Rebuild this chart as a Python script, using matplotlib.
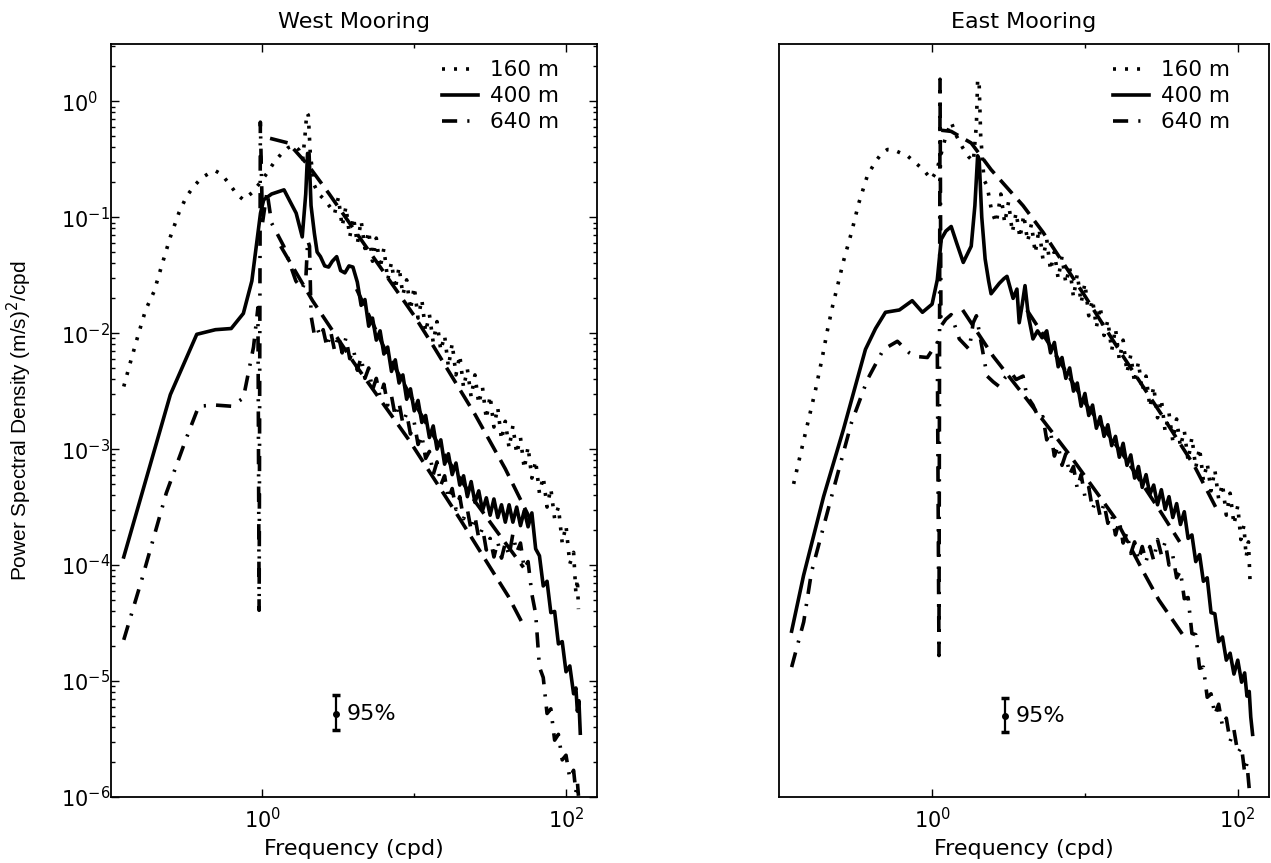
import numpy as np
import matplotlib
matplotlib.use("Agg")
import matplotlib.pyplot as plt
from matplotlib.ticker import FixedLocator, NullLocator, LogFormatterMathtext, NullFormatter, LogLocator

plt.rcParams['font.family'] = ['DejaVu Sans']
plt.rcParams['mathtext.fontset'] = 'dejavusans'

# ---------------- data: (log10 frequency [cpd], log10 PSD [(m/s)^2/cpd]) ----------------
west_160m = [(-0.914, -2.46), (-0.87, -2.25), (-0.82, -2.02), (-0.77, -1.80), (-0.714, -1.64),
    (-0.66, -1.40), (-0.607, -1.17), (-0.55, -0.96), (-0.50, -0.82), (-0.45, -0.73), (-0.40, -0.66),
    (-0.35, -0.62), (-0.31, -0.60), (-0.27, -0.63), (-0.22, -0.71), (-0.17, -0.80), (-0.126, -0.85),
    (-0.07, -0.79), (-0.02, -0.71), (0.03, -0.62), (0.08, -0.52), (0.12, -0.46), (0.17, -0.40),
    (0.21, -0.38), (0.24, -0.42), (0.265, -0.50), (0.28, -0.30), (0.292, -0.10), (0.302, -0.12),
    (0.315, -0.45), (0.34, -0.72), (0.37, -0.80), (0.41, -0.85), (0.45, -0.92), (0.475, -0.97),
    (0.500, -0.83), (0.525, -1.08), (0.550, -0.91), (0.575, -1.17), (0.600, -1.00), (0.625, -1.23),
    (0.650, -1.03), (0.675, -1.27), (0.700, -1.12), (0.725, -1.38), (0.750, -1.18), (0.775, -1.44),
    (0.800, -1.27), (0.825, -1.54), (0.850, -1.39), (0.875, -1.62), (0.900, -1.43), (0.925, -1.67),
    (0.950, -1.54), (0.975, -1.80), (1.000, -1.60), (1.025, -1.87), (1.050, -1.71), (1.075, -1.99),
    (1.100, -1.84), (1.125, -2.08), (1.150, -1.90), (1.175, -2.15), (1.200, -2.02), (1.225, -2.29),
    (1.250, -2.09), (1.275, -2.36), (1.300, -2.19), (1.325, -2.47), (1.350, -2.31), (1.375, -2.55),
    (1.400, -2.36), (1.425, -2.61), (1.450, -2.47), (1.475, -2.74), (1.500, -2.54), (1.525, -2.81),
    (1.550, -2.64), (1.575, -2.92), (1.600, -2.76), (1.625, -2.99), (1.650, -2.80), (1.675, -3.04),
    (1.700, -2.90), (1.725, -3.17), (1.750, -2.98), (1.775, -3.25), (1.800, -3.10), (1.825, -3.38),
    (1.850, -3.24), (1.875, -3.50), (1.900, -3.34), (1.925, -3.60), (1.950, -3.50), (1.975, -3.81),
    (2.000, -3.66), (2.025, -3.99), (2.050, -3.89), (2.065, -4.24), (2.075, -4.12), (2.082, -4.38)]

west_400m = [(-0.914, -3.93), (-0.607, -2.53), (-0.433, -2.01), (-0.31, -1.97), (-0.206, -1.96),
    (-0.126, -1.83), (-0.07, -1.55), (-0.013, -0.965), (0.008, -0.85), (0.06, -0.80), (0.142, -0.764),
    (0.18, -0.86), (0.222, -0.965), (0.262, -1.17), (0.285, -0.80), (0.297, -0.45), (0.307, -0.45),
    (0.32, -0.90), (0.342, -1.14), (0.36, -1.30), (0.382, -1.34), (0.41, -1.42), (0.436, -1.43),
    (0.46, -1.38), (0.489, -1.34), (0.515, -1.46), (0.543, -1.48), (0.57, -1.42), (0.596, -1.43),
    (0.625, -1.56), (0.650, -1.76), (0.675, -1.71), (0.700, -1.94), (0.725, -1.87), (0.750, -2.06),
    (0.775, -1.98), (0.800, -2.18), (0.825, -2.12), (0.850, -2.33), (0.875, -2.23), (0.900, -2.43),
    (0.925, -2.36), (0.950, -2.57), (0.975, -2.48), (1.000, -2.67), (1.025, -2.58), (1.050, -2.77),
    (1.075, -2.71), (1.100, -2.90), (1.125, -2.80), (1.150, -3.00), (1.175, -2.92), (1.200, -3.13),
    (1.225, -3.04), (1.250, -3.22), (1.275, -3.12), (1.300, -3.31), (1.325, -3.23), (1.350, -3.41),
    (1.375, -3.28), (1.400, -3.46), (1.425, -3.36), (1.450, -3.53), (1.475, -3.42), (1.500, -3.57),
    (1.525, -3.43), (1.550, -3.59), (1.575, -3.48), (1.600, -3.63), (1.625, -3.48), (1.650, -3.63),
    (1.675, -3.50), (1.700, -3.66), (1.725, -3.53), (1.750, -3.67), (1.775, -3.55), (1.800, -3.86),
    (1.825, -3.92), (1.850, -4.18), (1.875, -4.14), (1.900, -4.41), (1.925, -4.40), (1.950, -4.68),
    (1.975, -4.66), (2.000, -4.92), (2.025, -4.87), (2.050, -5.11), (2.065, -5.06), (2.075, -5.26),
    (2.085, -5.17), (2.094, -5.45)]

west_640m = [(-0.914, -4.645), (-0.794, -4.12), (-0.634, -3.38), (-0.50, -2.90), (-0.42, -2.63),
    (-0.313, -2.62), (-0.206, -2.63), (-0.126, -2.56), (-0.059, -2.12), (-0.03, -1.78),
    (-0.022, -4.39), (-0.014, -0.18), (0.0, -1.05), (0.03, -0.78), (0.06, -1.05), (0.10, -1.15),
    (0.14, -1.25), (0.18, -1.40), (0.22, -1.55), (0.26, -1.62), (0.285, -1.55), (0.298, -1.20),
    (0.31, -1.25), (0.32, -1.85), (0.34, -2.00), (0.36, -1.95), (0.38, -2.03),
    (0.400, -1.97), (0.425, -2.12), (0.450, -1.99), (0.475, -2.15), (0.500, -2.02), (0.525, -2.17),
    (0.550, -2.04), (0.575, -2.22), (0.600, -2.14), (0.625, -2.32), (0.650, -2.21), (0.675, -2.39),
    (0.700, -2.30), (0.725, -2.49), (0.750, -2.39), (0.775, -2.55), (0.800, -2.44), (0.825, -2.62),
    (0.850, -2.54), (0.875, -2.72), (0.900, -2.60), (0.925, -2.78), (0.950, -2.69), (0.975, -2.87),
    (1.000, -2.77), (1.025, -2.96), (1.050, -2.88), (1.075, -3.08), (1.100, -3.02), (1.125, -3.22),
    (1.150, -3.11), (1.175, -3.31), (1.200, -3.23), (1.225, -3.43), (1.250, -3.34), (1.275, -3.52),
    (1.300, -3.41), (1.325, -3.60), (1.350, -3.52), (1.375, -3.70), (1.400, -3.58), (1.425, -3.77),
    (1.450, -3.68), (1.475, -3.87), (1.500, -3.77), (1.525, -3.93), (1.550, -3.80), (1.575, -3.94),
    (1.600, -3.81), (1.625, -3.92), (1.650, -3.73), (1.675, -3.89), (1.700, -3.81), (1.725, -4.03),
    (1.750, -3.97), (1.775, -4.25), (1.800, -4.42), (1.825, -4.88), (1.850, -4.97), (1.875, -5.28),
    (1.900, -5.24), (1.925, -5.51), (1.950, -5.46), (1.975, -5.68), (2.000, -5.64), (2.025, -5.84),
    (2.050, -5.77), (2.065, -5.96), (2.075, -5.87), (2.082, -5.99)]

east_160m = [(-0.906, -3.30), (-0.85, -2.98), (-0.80, -2.70), (-0.762, -2.485), (-0.72, -2.22),
    (-0.684, -1.97), (-0.65, -1.76), (-0.62, -1.60), (-0.58, -1.38), (-0.527, -1.13), (-0.48, -0.88),
    (-0.423, -0.64), (-0.37, -0.52), (-0.33, -0.45), (-0.292, -0.416), (-0.25, -0.42), (-0.20, -0.45),
    (-0.162, -0.47), (-0.11, -0.53), (-0.057, -0.59), (-0.005, -0.675), (0.03, -0.60), (0.06, -0.45),
    (0.09, -0.30), (0.125, -0.18), (0.16, -0.30), (0.20, -0.40), (0.24, -0.48), (0.27, -0.52),
    (0.29, -0.20), (0.298, 0.19), (0.308, 0.15), (0.318, -0.30), (0.34, -0.68), (0.36, -0.73),
    (0.39, -0.95), (0.42, -1.05),
    (0.450, -0.80), (0.475, -1.05), (0.500, -0.87), (0.525, -1.13), (0.550, -0.96), (0.575, -1.18),
    (0.600, -0.98), (0.625, -1.21), (0.650, -1.06), (0.675, -1.31), (0.700, -1.10), (0.725, -1.36),
    (0.750, -1.19), (0.775, -1.46), (0.800, -1.30), (0.825, -1.53), (0.850, -1.34), (0.875, -1.57),
    (0.900, -1.43), (0.925, -1.69), (0.950, -1.49), (0.975, -1.74), (1.000, -1.57), (1.025, -1.85),
    (1.050, -1.71), (1.075, -1.95), (1.100, -1.77), (1.125, -2.02), (1.150, -1.89), (1.175, -2.15),
    (1.200, -1.96), (1.225, -2.23), (1.250, -2.06), (1.275, -2.34), (1.300, -2.19), (1.325, -2.43),
    (1.350, -2.25), (1.375, -2.50), (1.400, -2.37), (1.425, -2.64), (1.450, -2.46), (1.475, -2.73),
    (1.500, -2.57), (1.525, -2.85), (1.550, -2.69), (1.575, -2.93), (1.600, -2.74), (1.625, -2.98),
    (1.650, -2.84), (1.675, -3.10), (1.700, -2.90), (1.725, -3.16), (1.750, -2.99), (1.775, -3.27),
    (1.800, -3.12), (1.825, -3.36), (1.850, -3.18), (1.875, -3.43), (1.900, -3.30), (1.925, -3.57),
    (1.950, -3.38), (1.975, -3.65), (2.000, -3.49), (2.020, -3.78), (2.040, -3.66), (2.055, -3.93),
    (2.070, -3.80), (2.080, -4.13)]

east_400m = [(-0.919, -4.57), (-0.841, -4.09), (-0.71, -3.41), (-0.58, -2.83), (-0.436, -2.14),
    (-0.37, -1.96), (-0.305, -1.82), (-0.214, -1.80), (-0.13, -1.72), (-0.063, -1.82), (0.0, -1.75),
    (0.034, -1.54), (0.06, -1.19), (0.09, -1.12), (0.125, -1.08), (0.16, -1.22), (0.204, -1.39),
    (0.23, -1.32), (0.256, -1.25), (0.28, -0.90), (0.298, -0.47), (0.308, -0.50), (0.325, -1.00),
    (0.347, -1.36), (0.37, -1.55), (0.386, -1.66), (0.41, -1.62), (0.44, -1.57), (0.47, -1.53),
    (0.49, -1.51), (0.53, -1.70), (0.555, -1.62), (0.57, -1.91), (0.59, -1.75), (0.608, -1.59),
    (0.63, -1.85), (0.66, -2.05), (0.69, -1.98), (0.72, -2.04),
    (0.750, -1.98), (0.775, -2.17), (0.800, -2.08), (0.825, -2.29), (0.850, -2.21), (0.875, -2.39),
    (0.900, -2.30), (0.925, -2.50), (0.950, -2.43), (0.975, -2.63), (1.000, -2.52), (1.025, -2.71),
    (1.050, -2.62), (1.075, -2.82), (1.100, -2.72), (1.125, -2.89), (1.150, -2.79), (1.175, -2.97),
    (1.200, -2.89), (1.225, -3.07), (1.250, -2.95), (1.275, -3.14), (1.300, -3.05), (1.325, -3.25),
    (1.350, -3.15), (1.375, -3.33), (1.400, -3.22), (1.425, -3.39), (1.450, -3.31), (1.475, -3.48),
    (1.500, -3.35), (1.525, -3.52), (1.550, -3.41), (1.575, -3.59), (1.600, -3.47), (1.625, -3.65),
    (1.650, -3.54), (1.675, -3.77), (1.700, -3.74), (1.725, -3.97), (1.750, -3.91), (1.775, -4.14),
    (1.800, -4.11), (1.825, -4.41), (1.850, -4.42), (1.875, -4.66), (1.900, -4.62), (1.925, -4.82),
    (1.950, -4.76), (1.975, -4.94), (2.000, -4.82), (2.025, -5.01), (2.045, -4.93), (2.060, -5.13),
    (2.075, -5.09), (2.085, -5.31), (2.097, -5.46)]

east_640m = [(-0.919, -4.88), (-0.84, -4.49), (-0.789, -4.06), (-0.658, -3.41), (-0.527, -2.77),
    (-0.423, -2.40), (-0.318, -2.14), (-0.227, -2.07), (-0.149, -2.17), (-0.11, -2.20), (-0.031, -2.21),
    (0.034, -2.08), (0.045, -4.78), (0.052, 0.19), (0.058, -1.94), (0.09, -1.88), (0.125, -1.84),
    (0.178, -2.05), (0.243, -2.14), (0.269, -1.91), (0.29, -1.85), (0.31, -2.00), (0.36, -2.37),
    (0.40, -2.42), (0.439, -2.46), (0.48, -2.38), (0.517, -2.34), (0.55, -2.40), (0.595, -2.37),
    (0.62, -2.54), (0.66, -2.62), (0.70, -2.74),
    (0.725, -2.72), (0.750, -2.92), (0.775, -2.85), (0.800, -3.06), (0.825, -2.97), (0.850, -3.14),
    (0.875, -3.04), (0.900, -3.22), (0.925, -3.15), (0.950, -3.34), (0.975, -3.22), (1.000, -3.41),
    (1.025, -3.33), (1.050, -3.52), (1.075, -3.42), (1.100, -3.58), (1.125, -3.47), (1.150, -3.64),
    (1.175, -3.56), (1.200, -3.74), (1.225, -3.62), (1.250, -3.81), (1.275, -3.72), (1.300, -3.90),
    (1.325, -3.80), (1.350, -3.96), (1.375, -3.84), (1.400, -3.97), (1.425, -3.84), (1.450, -3.96),
    (1.475, -3.78), (1.500, -3.91), (1.525, -3.80), (1.550, -4.00), (1.575, -3.92), (1.600, -4.11),
    (1.625, -4.05), (1.650, -4.29), (1.675, -4.28), (1.700, -4.59), (1.725, -4.60), (1.750, -4.89),
    (1.775, -4.88), (1.800, -5.14), (1.825, -5.11), (1.850, -5.29), (1.875, -5.20), (1.900, -5.39),
    (1.925, -5.32), (1.950, -5.52), (1.975, -5.42), (2.000, -5.62), (2.025, -5.57), (2.045, -5.79),
    (2.060, -5.71), (2.075, -5.93), (2.084, -5.99)]

# reference (model) spectra drawn dashed
west_ref_upper = [(0.05, -0.32), (0.17, -0.36), (0.30, -0.55), (0.44, -0.80), (0.60, -1.10),
    (0.84, -1.55), (1.00, -1.85), (1.13, -2.12), (1.40, -2.70), (1.60, -3.17), (1.77, -3.62)]
west_ref_middle = [(0.62, -1.62), (0.80, -2.12), (1.00, -2.60), (1.20, -3.05), (1.40, -3.45),
    (1.55, -3.72), (1.72, -4.02)]
west_ref_lower = [(0.12, -1.25), (0.33, -1.72), (0.60, -2.25), (0.97, -2.93), (1.30, -3.60),
    (1.50, -4.02), (1.62, -4.27), (1.72, -4.52)]
east_ref_upper = [(0.06, -0.25), (0.125, -0.26), (0.256, -0.36), (0.386, -0.59), (0.595, -0.90),
    (0.726, -1.13), (1.00, -1.68), (1.25, -2.20), (1.50, -2.70), (1.718, -3.15), (1.875, -3.55)]
east_ref_middle = [(0.62, -1.80), (0.75, -2.06), (1.00, -2.60), (1.25, -3.05), (1.50, -3.55),
    (1.62, -3.80)]
east_ref_lower = [(0.20, -1.80), (0.40, -2.20), (0.62, -2.57), (0.90, -3.05), (1.20, -3.60),
    (1.379, -4.05), (1.483, -4.30), (1.666, -4.65)]

# 95% confidence bars: frequency, centre, low, high
west_ci = (3.05, 5.2e-6, 3.8e-6, 7.6e-6)
east_ci = (3.0, 5.0e-6, 3.6e-6, 7.2e-6)

depth_labels = ['160 m', '400 m', '640 m']
titles = ['West Mooring', 'East Mooring']

# ---------------- figure ----------------
fig = plt.figure(figsize=(12.71, 8.63), dpi=100)
ax1 = fig.add_axes([0.0871, 0.0765, 0.3826, 0.8722])
ax2 = fig.add_axes([0.6131, 0.0765, 0.3853, 0.8722])

LW = 2.6
styles = [dict(ls=(0, (0.83, 2.5)), lw=LW), dict(ls='-', lw=LW),
          dict(ls=(0, (4.2, 2.8, 0.6, 2.8)), lw=LW)]
ref_style = dict(ls=(0, (5.0, 2.4)), lw=LW)


def draw(ax, series, refs, ci, title, ylabels):
    for r in refs:
        a = np.array(r)
        ax.plot(10 ** a[:, 0], 10 ** a[:, 1], color='black', zorder=1, **ref_style)
    for s, st, lab in zip(series, styles, depth_labels):
        a = np.array(s)
        ax.plot(10 ** a[:, 0], 10 ** a[:, 1], color='black', label=lab, zorder=2, **st)
    f, c, lo, hi = ci
    ax.errorbar([f], [c], yerr=[[c - lo], [hi - c]], fmt='o', color='black', ms=4,
                elinewidth=1.6, capsize=3, capthick=2.5)
    ax.text(f * 1.18, c, '95%', fontsize=16, va='center', ha='left')
    ax.set_xscale('log')
    ax.set_yscale('log')
    ax.set_xlim(0.1, 160)
    ax.set_ylim(1e-6, 3.1)
    ax.xaxis.set_major_locator(FixedLocator([1, 100]))
    ax.xaxis.set_major_formatter(LogFormatterMathtext())
    ax.xaxis.set_minor_locator(FixedLocator([10]))
    ax.xaxis.set_minor_formatter(NullFormatter())
    ax.tick_params(which='both', direction='in', top=True, right=True, labelsize=15, width=1.0)
    ax.tick_params(which='major', length=6, pad=7)
    ax.tick_params(which='minor', length=3)
    if ylabels:
        ax.yaxis.set_major_locator(FixedLocator([1e-6, 1e-5, 1e-4, 1e-3, 1e-2, 1e-1, 1]))
        ax.yaxis.set_major_formatter(LogFormatterMathtext())
        ax.yaxis.set_minor_locator(LogLocator(base=10, subs=np.arange(2, 10), numticks=20))
        ax.yaxis.set_minor_formatter(NullFormatter())
        ax.tick_params(axis='y', which='major', pad=36)
        for lab in ax.get_yticklabels():
            lab.set_horizontalalignment('left')
    else:
        ax.yaxis.set_major_locator(NullLocator())
        ax.yaxis.set_minor_locator(NullLocator())
    for sp in ax.spines.values():
        sp.set_linewidth(1.3)
    ax.set_title(title, fontsize=16, pad=12)
    ax.set_xlabel('Frequency (cpd)', fontsize=16, labelpad=5)
    ax.legend(loc='upper left', bbox_to_anchor=(0.681, 0.979), frameon=False, fontsize=15.5,
              handlelength=1.7, handletextpad=0.55, labelspacing=0.28, borderpad=0,
              borderaxespad=0)


draw(ax1, [west_160m, west_400m, west_640m], [west_ref_upper, west_ref_middle, west_ref_lower],
     west_ci, titles[0], True)
draw(ax2, [east_160m, east_400m, east_640m], [east_ref_upper, east_ref_middle, east_ref_lower],
     east_ci, titles[1], False)

ax1.set_ylabel(r'Power Spectral Density (m/s)$^{2}$/cpd', fontsize=15, family='Liberation Sans')
ax1.yaxis.set_label_coords(-0.187, 0.5)
ax1.yaxis.label.set_va('center')

fig.savefig('out.png', dpi=100)
